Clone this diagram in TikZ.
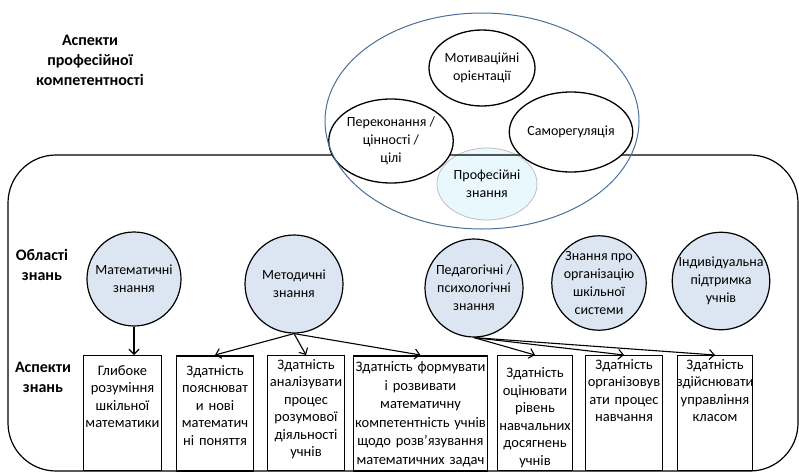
\documentclass[tikz,border=0pt]{standalone}
\usepackage{fontspec}
\setmainfont{Carlito}
\usetikzlibrary{arrows.meta, shapes.geometric}
\definecolor{kFill}{HTML}{DCE6F2}
\definecolor{kBlue}{HTML}{4A7099}
\definecolor{kPale}{HTML}{E8F8FD}
\definecolor{kGrey}{HTML}{BFBFBF}

\begin{document}
\begin{tikzpicture}[x=1pt, y=-1pt, font=\fontsize{14}{18}\selectfont,
  area/.style={circle, draw, line width=1.2pt, fill=kFill, inner sep=0pt, align=center},
  oval/.style={ellipse, draw, line width=1.3pt, fill=white, inner sep=0pt, align=center},
  aspect/.style={draw, line width=1.1pt, anchor=north, inner xsep=-1pt, inner ysep=0pt,
    align=center, font=\fontsize{14.5}{17.5}\selectfont, text height=13.5pt, text depth=101.5pt},
  arr/.style={-{Straight Barb[length=5pt, width=10pt]}, line width=1.1pt},
  head/.style={font=\fontsize{16}{20}\selectfont\bfseries, align=center}]
    \useasboundingbox (0,0) rectangle (799,474);
    % Professional knowledge, under the frame line
    \node[oval, draw=kGrey, line width=0.8pt, fill=kPale, minimum width=100pt, minimum height=72pt] (pk) at (487,184) {Професійні\\знання};
    % Frame round the knowledge areas
    \draw[line width=1.2pt, rounded corners=48pt] (8,155) rectangle (798,471);
    % Aspects of professional competence
    \node[oval, minimum width=106pt, minimum height=76pt] (mot) at (482,68) {Мотиваційні\\орієнтації};
    \node[oval, minimum width=114pt, minimum height=84pt] (per) at (391,141) {Переконання /\\цінності /\\цілі};
    \node[oval, minimum width=116pt, minimum height=80pt] (sam) at (571,132) {Саморегуляція};
    \draw[kBlue, line width=1pt] (482,121) ellipse [x radius=157pt, y radius=108pt];
    % Row headings
    \node[head] (asp) at (90,60) {Аспекти\\професійної\\компетентності};
    \node[head] (obl) at (42,265) {Області\\знань};
    \node[head] (asz) at (43,377) {Аспекти\\знань};
    % Knowledge areas
    \node[area, minimum size=94pt] (mat) at (134,279) {Математичні\\знання};
    \node[area, minimum size=98pt] (met) at (294,284) {Методичні\\знання};
    \node[area, minimum size=98pt] (ped) at (474,288) {Педагогічні /\\психологічні\\знання};
    \node[area, minimum size=92pt] (org) at (599,283) {Знання про\\організацію\\шкільної\\системи};
    \node[area, minimum size=90pt] (ind) at (721,281) {Індивідуальна\\підтримка\\учнів};
    % Knowledge aspects
    \node[aspect, text width=80pt, text height=19.5pt, text depth=95.5pt] (b1) at (122.5,355) {Глибоке\\розуміння\\шкільної\\математики};
    \node[aspect, line width=1.8pt, text width=79pt, text height=19.5pt, text depth=95.5pt] (b2) at (215,355) {Здатність\\пояснюват\\и нові\\математич\\ні поняття};
    \node[aspect, text width=79pt] (b3) at (306,355) {Здатність\\аналізувати\\процес\\розумової\\діяльності\\учнів};
    \node[aspect, line width=1.8pt, text width=136pt, font=\fontsize{14.5}{18.5}\selectfont, text height=16pt, text depth=99pt] (b4) at (420.5,355) {Здатність формувати\\і розвивати\\математичну\\компетентність учнів\\щодо розв’язування\\математичних задач};
    \node[aspect, text width=77pt, text height=22pt, text depth=93pt] (b5) at (535,355) {Здатність\\оцінювати\\рівень\\навчальних\\досягнень\\учнів};
    \node[aspect, text width=79pt] (b6) at (624,355) {Здатність\\організовув\\ати процес\\навчання};
    \node[aspect, text width=77pt] (b7) at (715,355) {Здатність\\здійснювати\\управління\\класом};
    % Arrows
    \draw[arr] (mat.south) -- (mat.south |- b1.north);
    \foreach \b in {b2,b3,b4} \draw[arr] (met.south) -- (\b.north);
    \foreach \b in {b5,b6,b7} \draw[arr] (ped.south) -- (\b.north);
\end{tikzpicture}
\end{document}
